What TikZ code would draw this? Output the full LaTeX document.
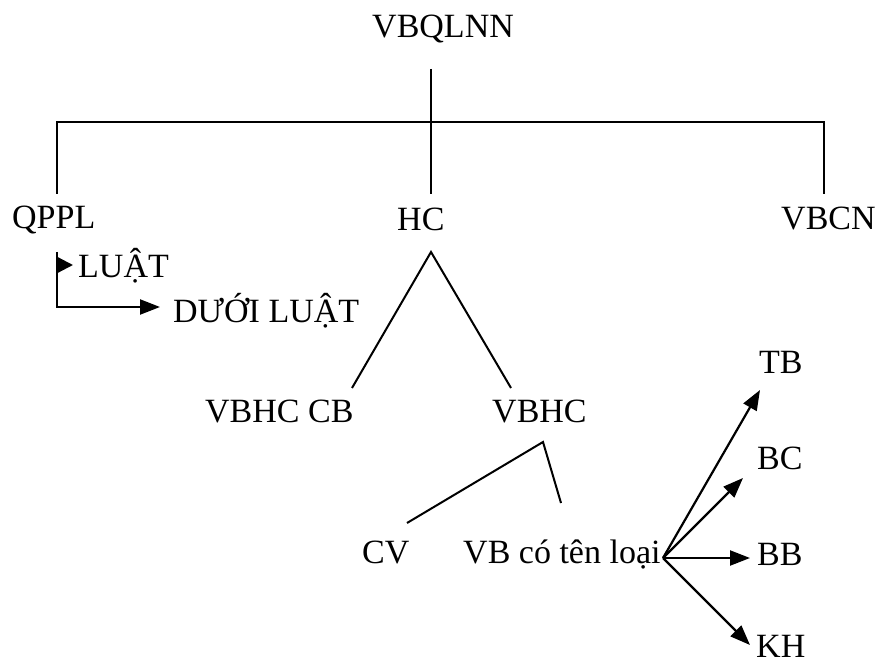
\documentclass[tikz,border=0pt]{standalone}
\usepackage{fontspec}
\setmainfont{Liberation Serif}
\usetikzlibrary{arrows.meta}
\begin{document}
\begin{tikzpicture}[x=1pt,y=-1pt,
  lbl/.style={inner sep=0pt,anchor=base west,font=\fontsize{34}{40}\selectfont},
  ln/.style={line width=2pt},
  arr/.style={line width=2.2pt,-{Triangle[length=20pt,width=15pt]}},
  sarr/.style={line width=2.2pt,-{Triangle[length=15pt,width=15pt]}}]
\useasboundingbox (0,0) rectangle (876,663);
% labels
\node[lbl] (vbqlnn) at (372,38) {VBQLNN};
\node[lbl] (qppl) at (12,229) {QPPL};
\node[lbl] (hc) at (397,231) {HC};
\node[lbl] (vbcn) at (781,230) {VBCN};
\node[lbl] (luat) at (78,278) {LUẬT};
\node[lbl] (duoiluat) at (173,323) {DƯỚI LUẬT};
\node[lbl] (vbhccb) at (205,422) {VBHC CB};
\node[lbl] (vbhc) at (492,422) {VBHC};
\node[lbl] (cv) at (362,563) {CV};
\node[lbl] (vbctl) at (463,563) {VB có tên loại};
\node[lbl] (tb) at (759,373) {TB};
\node[lbl] (bc) at (757,469) {BC};
\node[lbl] (bb) at (757,565) {BB};
\node[lbl] (kh) at (756,657) {KH};
% coordinates
\coordinate (top) at (431,69);
\coordinate (hl) at (57,122);
\coordinate (hm) at (431,122);
\coordinate (hr) at (824,122);
\coordinate (el) at (57,194);
\coordinate (em) at (431,194);
\coordinate (er) at (824,194);
\coordinate (pa) at (57,252);
\coordinate (pb) at (57,307);
\coordinate (pl) at (57,265);
\coordinate (ta) at (431,252);
\coordinate (tl) at (352,388);
\coordinate (tr) at (511,388);
\coordinate (ua) at (543,442);
\coordinate (ul) at (407,523);
\coordinate (ur) at (561,503);
\coordinate (src) at (663,558);
% tree lines
\draw[ln] (top) -- (em);
\draw[ln] (el) -- (hl) -- (hr) -- (er);
\draw[ln] (tl) -- (ta) -- (tr);
\draw[ln] (ul) -- (ua) -- (ur);
% QPPL arrows
\draw[ln] (pa) -- (pb);
\draw[sarr] (pl) -- ++(16,0);
\draw[arr,shorten <=-1pt] (pb) -- (160,307);
% fan arrows
\draw[arr] (src) -- (760,390);
\draw[arr] (src) -- (743,478);
\draw[arr] (src) -- (750,558);
\draw[arr] (src) -- (750,645);
\end{tikzpicture}
\end{document}
